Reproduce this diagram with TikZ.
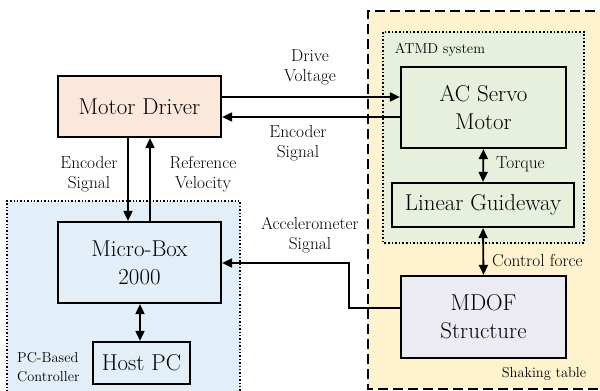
\documentclass[tikz,border=0pt]{standalone}
\usetikzlibrary{arrows.meta}
\definecolor{peach}{HTML}{FCE8DA}
\definecolor{shake}{HTML}{FFF2CF}
\definecolor{atmd}{HTML}{E6F0DC}
\definecolor{lav}{HTML}{ECEAF3}
\definecolor{pcb}{HTML}{E2EFF8}
\tikzset{
  blk/.style={draw, line width=2.2pt, inner sep=0pt, font=\fontsize{22.9}{28}\selectfont, align=center},
  lbl/.style={font=\fontsize{17.3}{20}\selectfont, align=center, inner sep=0pt},
  sml/.style={font=\fontsize{14.4}{19}\selectfont, align=left, inner sep=0pt},
  conn/.style={line width=1.8pt, -{Triangle[length=10pt,width=9pt]}},
  bconn/.style={line width=1.8pt, {Triangle[length=10pt,width=9pt]}-{Triangle[length=10pt,width=9pt]}},
}
\begin{document}
\begin{tikzpicture}[x=1pt,y=-1pt]
\useasboundingbox (0,0) rectangle (600,391);
% group boxes
\fill[shake] (368,11) rectangle (610,389);
\draw[line width=2.5pt, dash pattern=on 10pt off 5pt] (610,11) -- (368,11) -- (368,389) -- (610,389);
\draw[atmd, fill=atmd] (383,32) rectangle (584,243);
\draw[line width=1.6pt, dotted] (383,32) rectangle (584,243);
\fill[pcb] (7,201) rectangle (240,395);
\draw[line width=1.4pt, dotted] (7,395) -- (7,201) -- (240,201) -- (240,395);
% blocks
\node[blk, fill=peach, minimum width=163pt, minimum height=61pt] (md) at (139.5,106.5) {Motor Driver};
\node[blk, fill=atmd, minimum width=165pt, minimum height=81pt] (ac) at (483.5,107.5) {AC Servo\\Motor};
\node[blk, fill=atmd, minimum width=182pt, minimum height=44pt] (lg) at (483,205) {Linear Guideway};
\node[blk, fill=lav, minimum width=165pt, minimum height=82pt] (mdof) at (483.5,317) {MDOF\\Structure};
\node[blk, fill=pcb, minimum width=163pt, minimum height=81pt] (mb) at (139.5,262.5) {Micro-Box\\2000};
\node[blk, fill=pcb, minimum width=97pt, minimum height=42pt] (hp) at (141.5,363) {Host PC};
% labels
\node[sml] (atl) at (440,50) {ATMD system};
\node[sml] (stl) at (544,374) {Shaking table};
\node[sml, anchor=west] (pcl) at (17,367) {PC-Based\\Controller};
\node[lbl] (dv) at (310,67) {Drive\\Voltage};
\node[lbl] (es2) at (298,143) {Encoder\\Signal};
\node[lbl] (es1) at (89,174) {Encoder\\Signal};
\node[lbl] (rv) at (203,174) {Reference\\Velocity};
\node[lbl] (acc) at (310,235) {Accelerometer\\Signal};
\node[lbl, anchor=west] (tq) at (496,164) {Torque};
\node[lbl, anchor=west] (cf) at (492,261) {Control force};
% connectors
\draw[conn] (md.east |- 0,97) -- (ac.west |- 0,97);
\draw[conn] (ac.west |- 0,117) -- (md.east |- 0,117);
\draw[conn] (md.south -| 128,0) -- (mb.north -| 128,0);
\draw[conn] (mb.north -| 150,0) -- (md.south -| 150,0);
\draw[bconn] (ac.south) -- (lg.north);
\draw[bconn] (lg.south) -- (mdof.north);
\draw[bconn] (mb.south -| 140,0) -- (hp.north -| 140,0);
\coordinate (k1) at (349,308);
\coordinate (k2) at (349,263);
\draw[conn] (mdof.west |- k1) -- (k1) -- (k2) -- (mb.east |- k2);
\end{tikzpicture}
\end{document}
